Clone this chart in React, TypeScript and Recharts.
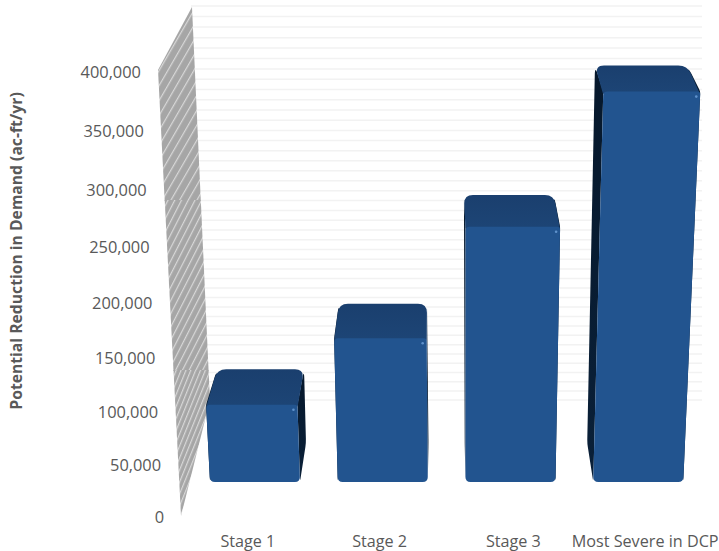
import { BarChart, Bar, CartesianGrid, XAxis, YAxis } from 'recharts';

const stages = ['Stage 1', 'Stage 2', 'Stage 3', 'Most Severe in DCP'];
const reduction = [72000, 134000, 238000, 364000];
const yTicks = [0, 50000, 100000, 150000, 200000, 250000, 300000, 350000, 400000];
const gridValues = Array.from({ length: 41 }, (_, i) => i * 10000);

const chartData = stages.map((stage, i) => ({ stage, reduction: reduction[i] }));

const FONT = "'Open Sans', sans-serif";
const TEXT = '#595959';
const Y_MAX = 400000;

// the 3D view squeezes values near the floor a bit
const squeeze = (v: number) => {
  const f = v / Y_MAX;
  return f * (0.924 + 0.076 * f);
};
const wallFrontY = (v: number) => 517 - 445 * squeeze(v);
const wallBackY = (v: number) => 400 - 394 * squeeze(v);

const roundedPath = (pts: number[][], radii: number[]) => {
  const n = pts.length;
  let d = '';
  pts.forEach((p, i) => {
    const prev = pts[(i + n - 1) % n];
    const next = pts[(i + 1) % n];
    const toward = (q: number[]) => {
      const len = Math.hypot(q[0] - p[0], q[1] - p[1]) || 1;
      const k = Math.min(radii[i], len / 2) / len;
      return [p[0] + (q[0] - p[0]) * k, p[1] + (q[1] - p[1]) * k];
    };
    const a = toward(prev);
    const b = toward(next);
    d += `${i === 0 ? 'M' : 'L'}${a[0]},${a[1]} Q${p[0]},${p[1]} ${b[0]},${b[1]} `;
  });
  return d + 'Z';
};

const Bar3D = (props: any) => {
  const { x, y, width, height } = props;
  const base = y + height;
  const lean = (px: number) => height * (px - 465) * 0.0002;
  const left = x;
  const right = x + width;
  const topL = left + lean(left);
  const topR = right + lean(right);
  const backTop = y - (36 - 0.000065 * height * height);
  const backBase = 443;
  const backTopX = (px: number) => px + (433 - px) * 0.0487;
  const backBaseX = (px: number) => px + (446 - px) * 0.041;
  const glow = Math.min(1, height / 390);
  const sideRadii = [2, 9, 4, 4];
  return (
    <g>
      <path
        d={roundedPath(
          [
            [topL, y],
            [backTopX(topL), backTop],
            [backBaseX(left), backBase],
            [left, base],
          ],
          sideRadii,
        )}
        fill="url(#sideFill)"
      />
      <path
        d={roundedPath(
          [
            [topR, y],
            [backTopX(topR), backTop],
            [backBaseX(right), backBase],
            [right, base],
          ],
          sideRadii,
        )}
        fill="url(#sideFill)"
      />
      <path
        d={roundedPath(
          [
            [topL, y + 3],
            [backTopX(topL), backTop],
            [backTopX(topR), backTop],
            [topR, y + 3],
          ],
          [2, 9, 9, 2],
        )}
        fill="url(#topFill)"
      />
      <path
        d={roundedPath(
          [
            [topL, y],
            [topR, y],
            [right, base],
            [left, base],
          ],
          [4, 3, 5, 5],
        )}
        fill="#22548f"
      />
      <line
        x1={topL + 6}
        x2={topR - 4}
        y1={y + 4}
        y2={y + 4}
        stroke="url(#edgeGlow)"
        strokeWidth={2}
        opacity={glow}
      />
      <circle cx={topR - 4} cy={y + 5} r={1.3} fill="#5f92cc" />
    </g>
  );
};

const hatchDefs = [
  { id: 'hatchTop', size: 7.5, angle: 30 },
  { id: 'hatchMid', size: 6, angle: 27 },
  { id: 'hatchLow', size: 4.5, angle: 22 },
];

const Wall = () => (
  <g>
    <defs>
      {hatchDefs.map((h) => (
        <pattern
          key={h.id}
          id={h.id}
          width={h.size}
          height={h.size}
          patternUnits="userSpaceOnUse"
          patternTransform={`rotate(${h.angle})`}
        >
          <rect width={h.size} height={h.size} fill="#a6a6a6" />
          <rect width="1.2" height={h.size} fill="#d8d8d8" />
        </pattern>
      ))}
      <linearGradient id="sideFill" x1="0" y1="0" x2="0" y2="1">
        <stop offset="0%" stopColor="#06182c" />
        <stop offset="100%" stopColor="#0a2038" />
      </linearGradient>
      <linearGradient id="topFill" x1="0" y1="0" x2="0" y2="1">
        <stop offset="0%" stopColor="#1a3f6e" />
        <stop offset="100%" stopColor="#1d4576" />
      </linearGradient>
      <linearGradient id="edgeGlow" x1="0" y1="0" x2="1" y2="0">
        <stop offset="0%" stopColor="#3f76b4" stopOpacity="0.5" />
        <stop offset="100%" stopColor="#5a90cc" stopOpacity="1" />
      </linearGradient>
    </defs>
    <polygon points="192,7 158,70 164.7,201 200.8,201" fill="url(#hatchTop)" />
    <polygon points="200.8,200 164.7,200 173.5,371 208.6,371" fill="url(#hatchMid)" />
    <polygon points="208.6,370 173.5,370 181,516 210,400" fill="url(#hatchLow)" />
  </g>
);

const YTick = (props: any) => {
  const v = props.payload.value;
  return (
    <text
      x={164 - 23 * (v / Y_MAX)}
      y={wallFrontY(v) + 6}
      textAnchor="end"
      fontFamily={FONT}
      fontSize={16.4}
      fill={TEXT}
    >
      {v.toLocaleString('en-US')}
    </text>
  );
};

const labelShift = [-7, -3, 3, 7];

const XTick = (props: any) => (
  <text
    x={props.x + labelShift[props.index]}
    y={547}
    textAnchor="middle"
    fontFamily={FONT}
    fontSize={16.2}
    fill={TEXT}
  >
    {props.payload.value}
  </text>
);

const YTitle = () => (
  <text
    transform="translate(22,251) rotate(-90)"
    textAnchor="middle"
    fontFamily={FONT}
    fontSize={15.7}
    fontWeight="bold"
    fill={TEXT}
  >
    Potential Reduction in Demand (ac-ft/yr)
  </text>
);

export default function App() {
  return (
    <div style={{ position: 'absolute', left: 0, top: 0, background: '#fff' }}>
      <BarChart
        width={719}
        height={551}
        data={chartData}
        barSize={90}
        margin={{ top: 53, right: 17, bottom: 0, left: 0 }}
      >
        <CartesianGrid
          vertical={false}
          horizontalPoints={gridValues.map(wallBackY)}
          stroke="#f2f2f2"
          strokeWidth={1.5}
        />
        <Wall />
        <XAxis dataKey="stage" height={69} axisLine={false} tickLine={false} tick={<XTick />} interval={0} />
        <YAxis
          width={191}
          domain={[0, Y_MAX]}
          ticks={yTicks}
          axisLine={false}
          tickLine={false}
          tick={<YTick />}
          interval={0}
        />
        <YTitle />
        <Bar dataKey="reduction" shape={<Bar3D />} isAnimationActive={false} />
      </BarChart>
    </div>
  );
}
